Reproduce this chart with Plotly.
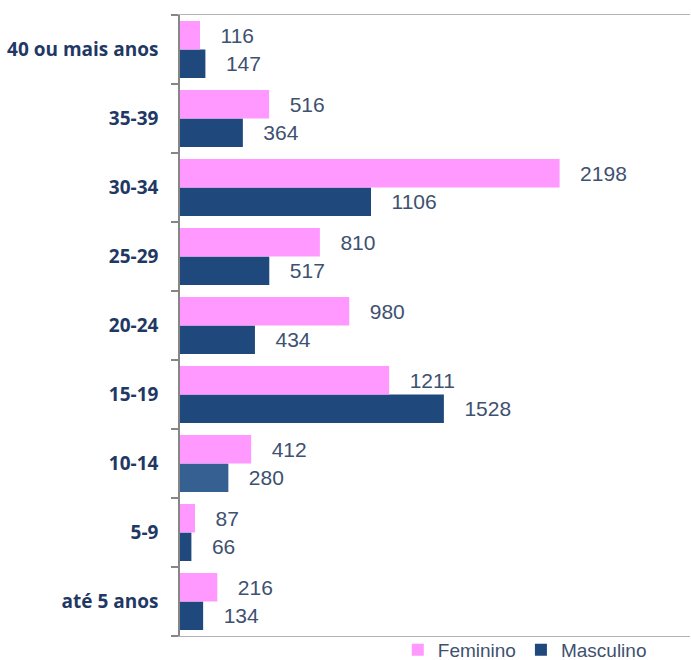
import plotly.graph_objects as go

# Age groups, listed bottom to top
categories = ["até 5 anos", "5-9", "10-14", "15-19", "20-24",
              "25-29", "30-34", "35-39", "40 ou mais anos"]
feminino = [216, 87, 412, 1211, 980, 810, 2198, 516, 116]
masculino = [134, 66, 280, 1528, 434, 517, 1106, 364, 147]

pink = "#FF99FF"
navy = "#1F497D"
navy_light = "#376092"
label_color = "#3E5170"
tick_color = "#1F3864"

masc_colors = [navy_light if c == "10-14" else navy for c in categories]

pad = "\u00a0\u00a0\u00a0"

fig = go.Figure()
# Masculino first so it sits below Feminino inside each group
fig.add_trace(go.Bar(
    y=categories, x=masculino, orientation="h", name="Masculino",
    marker=dict(color=masc_colors, line=dict(width=0)),
    text=masculino, texttemplate=pad + "%{x}", textposition="outside",
    constraintext="none", cliponaxis=False,
    textfont=dict(family="Liberation Sans", size=21, color=label_color),
))
fig.add_trace(go.Bar(
    y=categories, x=feminino, orientation="h", name="Feminino",
    marker=dict(color=pink, line=dict(width=0)),
    text=feminino, texttemplate=pad + "%{x}", textposition="outside",
    constraintext="none", cliponaxis=False,
    textfont=dict(family="Liberation Sans", size=21, color=label_color),
))

fig.update_layout(
    width=691, height=660,
    margin=dict(l=180, r=1, t=15, b=24, autoexpand=False),
    paper_bgcolor="white", plot_bgcolor="white",
    barmode="group", bargap=0.174, bargroupgap=0,
    showlegend=True,
    legend=dict(
        orientation="h", traceorder="reversed",
        xref="paper", x=0.427, xanchor="left",
        yref="container", y=0.0152, yanchor="middle",
        font=dict(family="Liberation Sans", size=19, color=label_color),
        bgcolor="rgba(0,0,0,0)", itemclick=False,
    ),
    xaxis=dict(
        range=[0, 2953], showgrid=False, zeroline=False,
        showticklabels=False, ticks="",
        showline=True, mirror=True, linecolor="#B4B4B4", linewidth=1,
    ),
    yaxis=dict(
        type="category", categoryorder="array", categoryarray=categories,
        tickson="boundaries", ticks="outside", ticklen=7,
        tickcolor="#868686", tickwidth=1.5,
        showline=True, linecolor="#868686", linewidth=1.5,
        showgrid=False, zeroline=False, ticklabelstandoff=16,
        tickfont=dict(family="Open Sans", size=19, color=tick_color,
                      weight="bold"),
    ),
)

fig.write_html("out.html")
